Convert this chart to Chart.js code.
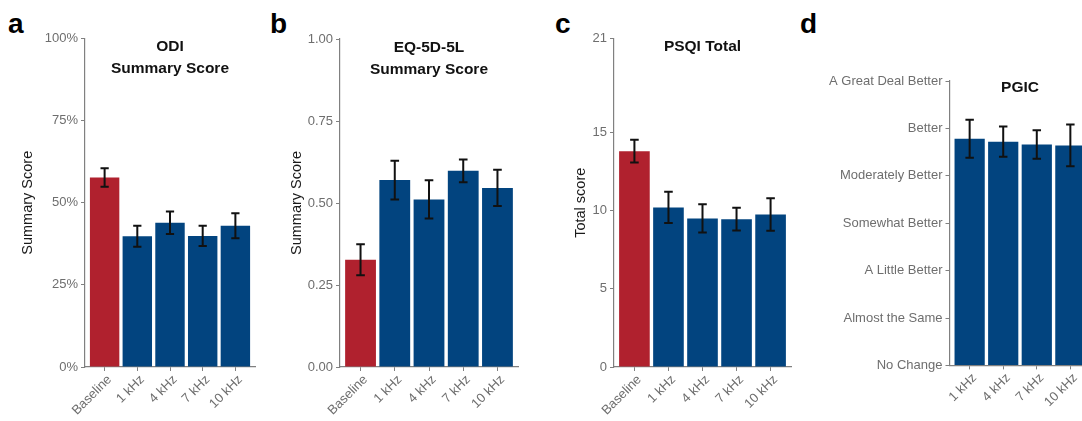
<!DOCTYPE html>
<html>
<head>
    <title>Outcome scores by stimulation frequency</title>
    <script src="https://cdn.jsdelivr.net/npm/chart.js"></script>
    <style>
        html, body { margin: 0; padding: 0; background: #fff; overflow: hidden; }
        body { width: 1082px; height: 421px; position: relative; }
        .panel { position: absolute; top: 0; }
        .panel canvas { display: block; }
        .tag {
            position: absolute;
            top: 10px;
            font: bold 28px 'Liberation Sans', Arial, sans-serif;
            line-height: 1;
            color: #000;
        }
    </style>
</head>
<body>
    <div class="tag" style="left:8px">a</div>
    <div class="tag" style="left:270px">b</div>
    <div class="tag" style="left:555px">c</div>
    <div class="tag" style="left:800px">d</div>

    <div class="panel" style="left:0px"><canvas id="odiChart" width="270" height="421"></canvas></div>
    <div class="panel" style="left:270px"><canvas id="eqChart" width="270" height="421"></canvas></div>
    <div class="panel" style="left:540px"><canvas id="psqiChart" width="260" height="421"></canvas></div>
    <div class="panel" style="left:800px"><canvas id="pgicChart" width="300" height="421"></canvas></div>

    <script>
        // data
        const timepoints = ['Baseline', '1 kHz', '4 kHz', '7 kHz', '10 kHz'];

        const odiValues = [57.7, 39.8, 43.9, 39.9, 43.0];
        const odiErrors = [2.8, 3.2, 3.4, 3.1, 3.8];
        const odiTicks = [0, 25, 50, 75, 100];

        const eqValues = [0.327, 0.570, 0.511, 0.598, 0.546];
        const eqErrors = [0.047, 0.059, 0.058, 0.035, 0.055];
        const eqTicks = [0, 0.25, 0.5, 0.75, 1];

        const psqiValues = [13.8, 10.2, 9.5, 9.45, 9.75];
        const psqiErrors = [0.72, 1.0, 0.9, 0.73, 1.04];
        const psqiTicks = [0, 5, 10, 15, 21];

        const pgicFrequencies = ['1 kHz', '4 kHz', '7 kHz', '10 kHz'];
        const pgicValues = [4.78, 4.72, 4.66, 4.64];
        const pgicErrors = [0.40, 0.32, 0.30, 0.44];
        const pgicLevels = ['No Change', 'Almost the Same', 'A Little Better', 'Somewhat Better',
                            'Moderately Better', 'Better', 'A Great Deal Better'];

        const RED = '#B0212E';
        const BLUE = '#02447F';
        const AXIS = '#808080';
        const TICK_TEXT = '#6e6e6e';

        Chart.defaults.font.family = "'Liberation Sans', Arial, sans-serif";

        const errorBars = {
            id: 'errorBars',
            afterDatasetsDraw(chart) {
                const ctx = chart.ctx;
                const y = chart.scales.y;
                const ds = chart.data.datasets[0];
                ctx.save();
                ctx.strokeStyle = '#111';
                ctx.lineWidth = 2;
                chart.getDatasetMeta(0).data.forEach((bar, i) => {
                    const v = ds.data[i].y;
                    const e = ds.errors[i];
                    const top = y.getPixelForValue(v + e);
                    const bot = y.getPixelForValue(v - e);
                    const half = bar.width * 0.14;
                    ctx.beginPath();
                    ctx.moveTo(bar.x, top); ctx.lineTo(bar.x, bot);
                    ctx.moveTo(bar.x - half, top); ctx.lineTo(bar.x + half, top);
                    ctx.moveTo(bar.x - half, bot); ctx.lineTo(bar.x + half, bot);
                    ctx.stroke();
                });
                ctx.restore();
            }
        };

        function innerTitle(lines, ys) {
            return {
                id: 'innerTitle',
                afterDraw(chart) {
                    const ctx = chart.ctx;
                    const area = chart.chartArea;
                    ctx.save();
                    ctx.fillStyle = '#111';
                    ctx.font = "bold 15.5px 'Liberation Sans', Arial, sans-serif";
                    ctx.textAlign = 'center';
                    ctx.textBaseline = 'middle';
                    lines.forEach((t, i) => ctx.fillText(t, (area.left + area.right) / 2, ys[i]));
                    ctx.restore();
                }
            };
        }

        function createChart(canvasId, p) {
            const n = p.categories.length;
            new Chart(document.getElementById(canvasId), {
                type: 'bar',
                data: {
                    datasets: [{
                        data: p.categories.map((c, i) => ({ x: i + 1, y: p.values[i] })),
                        errors: p.errors,
                        backgroundColor: p.categories.map(c => c === 'Baseline' ? RED : BLUE),
                        categoryPercentage: 1,
                        barPercentage: 0.9,
                        borderWidth: 0
                    }]
                },
                options: {
                    responsive: false,
                    animation: false,
                    devicePixelRatio: 1,
                    layout: { padding: { top: p.top, right: p.right, left: 0, bottom: 0 } },
                    plugins: { legend: { display: false }, tooltip: { enabled: false } },
                    scales: {
                        x: {
                            type: 'linear',
                            min: 0.4,
                            max: n + 0.6,
                            offset: false,
                            afterBuildTicks: s => { s.ticks = p.categories.map((c, i) => ({ value: i + 1 })); },
                            afterFit: s => { s.height = p.xHeight; },
                            ticks: {
                                color: TICK_TEXT,
                                font: { size: 13 },
                                minRotation: 45,
                                maxRotation: 45,
                                autoSkip: false,
                                padding: 1,
                                labelOffset: 5,
                                callback: v => p.categories[v - 1]
                            },
                            grid: { drawOnChartArea: false, offset: false, tickLength: 4, color: AXIS },
                            border: { color: AXIS, width: 1.2 }
                        },
                        y: {
                            min: p.yTicks[0],
                            max: p.yTicks[p.yTicks.length - 1],
                            afterBuildTicks: s => { s.ticks = p.yTicks.map(v => ({ value: v })); },
                            afterFit: s => { s.width = p.yWidth; },
                            ticks: { color: TICK_TEXT, font: { size: 13 }, padding: 3, autoSkip: false, callback: p.format },
                            grid: { drawOnChartArea: false, tickLength: 4, color: AXIS },
                            border: { color: AXIS, width: 1.2 },
                            title: {
                                display: !!p.yTitle,
                                text: p.yTitle,
                                color: '#1a1a1a',
                                font: { size: 14.5 },
                                padding: { top: p.titlePad, bottom: 0 }
                            }
                        }
                    }
                },
                plugins: [errorBars, innerTitle(p.title, p.titleY)]
            });
        }

        createChart('odiChart', {
            categories: timepoints, values: odiValues, errors: odiErrors, yTicks: odiTicks,
            format: v => v + '%', yTitle: 'Summary Score', titlePad: 19,
            title: ['ODI', 'Summary Score'], titleY: [47, 68.5],
            top: 38.5, right: 15, yWidth: 85, xHeight: 54
        });

        createChart('eqChart', {
            categories: timepoints, values: eqValues, errors: eqErrors, yTicks: eqTicks,
            format: v => v.toFixed(2), yTitle: 'Summary Score', titlePad: 18,
            title: ['EQ-5D-5L', 'Summary Score'], titleY: [47.3, 69.3],
            top: 39, right: 22, yWidth: 70, xHeight: 54
        });

        createChart('psqiChart', {
            categories: timepoints, values: psqiValues, errors: psqiErrors, yTicks: psqiTicks,
            format: v => String(v), yTitle: 'Total score', titlePad: 32.5,
            title: ['PSQI Total'], titleY: [46.7],
            top: 38.5, right: 9, yWidth: 74, xHeight: 54
        });

        createChart('pgicChart', {
            categories: pgicFrequencies, values: pgicValues, errors: pgicErrors,
            yTicks: pgicLevels.map((l, i) => i),
            format: v => pgicLevels[v], yTitle: '', titlePad: 0,
            title: ['PGIC'], titleY: [87.5],
            top: 81, right: 9.5, yWidth: 149.5, xHeight: 55.6
        });
    </script>
</body>
</html>
